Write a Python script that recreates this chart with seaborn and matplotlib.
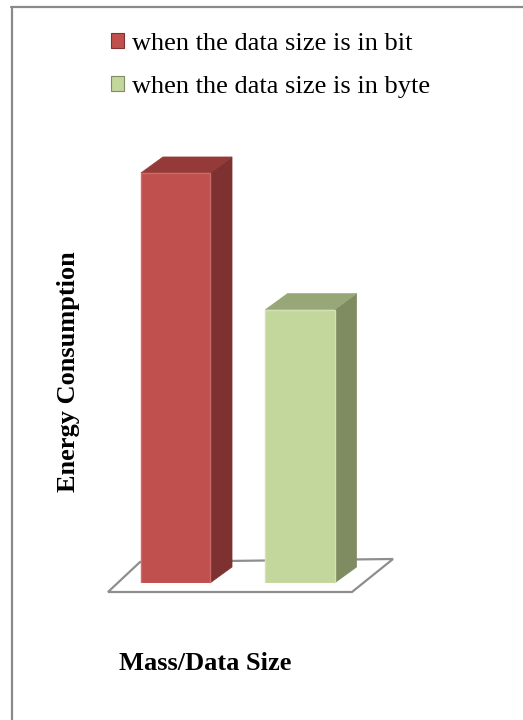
import matplotlib
matplotlib.use("Agg")
import matplotlib.pyplot as plt
import seaborn as sns
import pandas as pd
from matplotlib.patches import Polygon, Patch
from matplotlib.lines import Line2D
from matplotlib.transforms import IdentityTransform

# Data
categories = ["when the data size is in bit", "when the data size is in byte"]
values = [3.0, 2.0]
x_label = "Mass/Data Size"
y_label = "Energy Consumption"

# Face colours for the pseudo-3D columns
front_colors = ["#C0504D", "#C3D69B"]
edge_colors = ["#CC6A67", "#D3E2B2"]
side_colors = ["#7D3130", "#7F8B61"]
top_colors = ["#943A38", "#98A777"]

sns.set_theme(style="white")
plt.rcParams["font.family"] = ["Liberation Serif", "DejaVu Serif"]

W, H = 523, 720
fig = plt.figure(figsize=(W / 100, H / 100), dpi=100)
fig.patch.set_facecolor("white")

# Axes covering the front faces of the columns
ax = fig.add_axes([100 / W, (H - 583) / H, 300 / W, 433 / H])
df = pd.DataFrame({"series": categories, "energy": values})
sns.barplot(data=df, x="series", y="energy", hue="series",
            palette=front_colors, width=0.555, dodge=False, legend=False,
            saturation=1, ax=ax, zorder=3)
ax.set_xlim(-0.606, 1.803)
ax.set_ylim(0, 3.168)
ax.axis("off")

for p, ec in zip(ax.patches, edge_colors):
    p.set_edgecolor(ec)
    p.set_linewidth(1.0)

fig.canvas.draw()

# Floor plane (drawn in pixel space, behind the columns)
def px(x, y):
    return (x, H - y)

floor = Polygon([px(108, 592), px(140, 562), px(393, 559), px(352, 592)],
                closed=True, facecolor="white", edgecolor="#8E8E8E",
                linewidth=1.6, transform=IdentityTransform(), zorder=0)
fig.add_artist(floor)

# Depth faces derived from each bar's rendered extent
dx, dy = 22, 16
for p, sc, tc in zip(ax.patches, side_colors, top_colors):
    (x0, y0), (x1, y1) = ax.transData.transform(p.get_bbox().get_points())
    side = Polygon([(x1, y0), (x1 + dx, y0 + dy), (x1 + dx, y1 + dy), (x1, y1)],
                   closed=True, facecolor=sc, edgecolor=sc, linewidth=0.5,
                   transform=IdentityTransform(), zorder=2)
    top = Polygon([(x0, y1), (x0 + dx, y1 + dy), (x1 + dx, y1 + dy), (x1, y1)],
                  closed=True, facecolor=tc, edgecolor=tc, linewidth=0.5,
                  transform=IdentityTransform(), zorder=2)
    fig.add_artist(side)
    fig.add_artist(top)

# Bring the front faces above the depth faces
for p in ax.patches:
    p.set_zorder(5)
ax.set_zorder(3)
ax.patch.set_alpha(0)

# Legend
handles = [Patch(facecolor=c, edgecolor=s, linewidth=0.8)
           for c, s in zip(front_colors, side_colors)]
fig.legend(handles=handles, labels=categories, loc="upper left",
           bbox_to_anchor=(111 / W, 1 - 33 / H), frameon=False,
           fontsize=19, handlelength=0.5, handleheight=0.5,
           handletextpad=0.3, labelspacing=0.78, borderpad=0,
           borderaxespad=0, labelcolor="black")

# Axis titles
fig.text(68 / W, 1 - 372 / H, y_label, rotation=90, ha="center", va="center",
         fontsize=19, fontweight="bold", color="black")
fig.text(205 / W, 1 - 663 / H, x_label, ha="center", va="center",
         fontsize=19, fontweight="bold", color="black")

# Outer frame (top and left edges)
frame_kw = dict(color="#8A8A8A", linewidth=1.6, transform=IdentityTransform())
fig.add_artist(Line2D([11, W], [H - 6.5, H - 6.5], **frame_kw))
fig.add_artist(Line2D([11.8, 11.8], [0, H - 6.5], **frame_kw))

fig.savefig("out.png", dpi=100, facecolor="white")
